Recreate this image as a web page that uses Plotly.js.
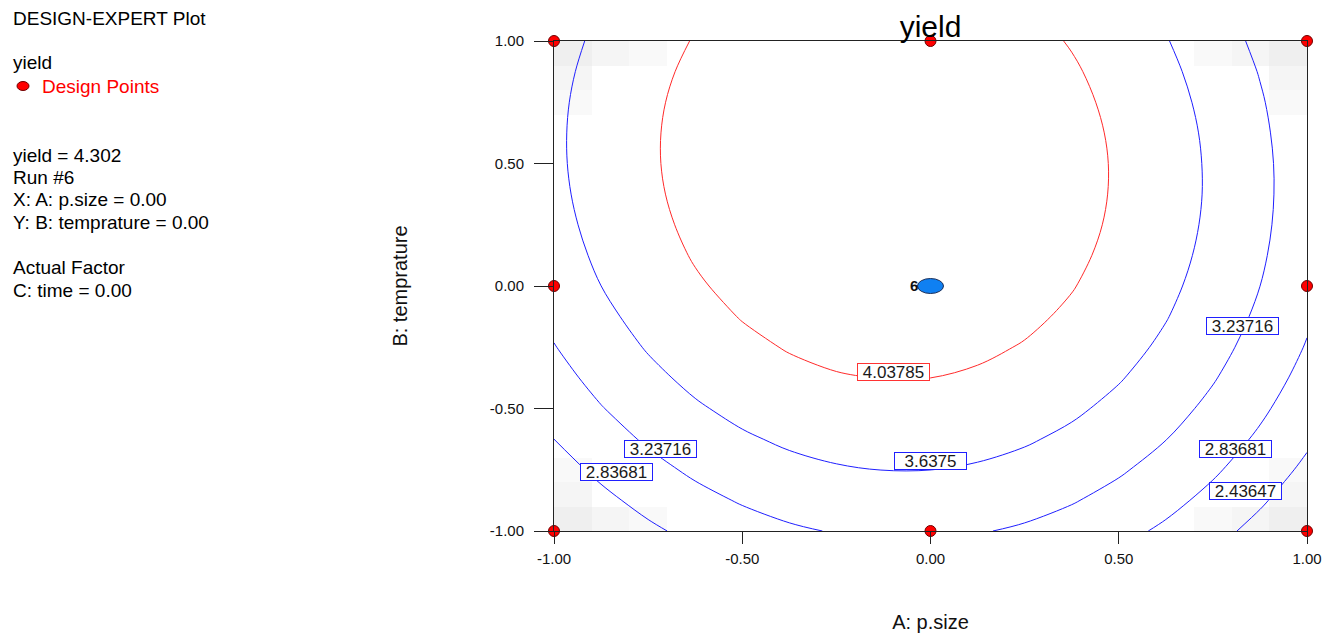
<!DOCTYPE html>
<html>
<head>
<meta charset="utf-8">
<script src="https://cdn.plot.ly/plotly-3.0.1.min.js"></script>
<style>
  html, body { margin: 0; padding: 0; background: #fff; }
  #chart { width: 1335px; height: 636px; }
</style>
</head>
<body>
<div id="chart"></div>
<script>
// Coded factor levels of the contour grid (A: p.size across, B: temprature up)
const gridA = [-1, -0.875, -0.75, -0.625, -0.5, -0.375, -0.25, -0.125, 0,
               0.125, 0.25, 0.375, 0.5, 0.625, 0.75, 0.875, 1];
const gridB = [-1, -0.875, -0.75, -0.625, -0.5, -0.375, -0.25, -0.125, 0,
               0.125, 0.25, 0.375, 0.5, 0.625, 0.75, 0.875, 1];

// Predicted yield on the grid, one row per B level (bottom to top), C: time = 0
const yieldGrid = [
  [2.460, 2.555, 2.766, 2.941, 3.082, 3.188, 3.258, 3.294, 3.294, 3.260, 3.190, 3.086, 2.946, 2.772, 2.562, 2.317, 2.038],
  [2.501, 2.745, 2.954, 3.129, 3.268, 3.372, 3.441, 3.475, 3.474, 3.439, 3.368, 3.262, 3.121, 2.945, 2.733, 2.487, 2.206],
  [2.677, 2.919, 3.127, 3.300, 3.438, 3.541, 3.608, 3.641, 3.639, 3.601, 3.529, 3.422, 3.279, 3.102, 2.889, 2.642, 2.359],
  [2.837, 3.078, 3.285, 3.456, 3.592, 3.694, 3.760, 3.791, 3.788, 3.749, 3.675, 3.566, 3.422, 3.243, 3.029, 2.780, 2.496],
  [2.981, 3.221, 3.426, 3.596, 3.731, 3.831, 3.896, 3.926, 3.921, 3.880, 3.805, 3.695, 3.549, 3.369, 3.154, 2.903, 2.618],
  [3.110, 3.349, 3.552, 3.721, 3.854, 3.953, 4.016, 4.045, 4.038, 3.996, 3.920, 3.808, 3.661, 3.479, 3.262, 3.011, 2.724],
  [3.223, 3.460, 3.663, 3.830, 3.962, 4.059, 4.121, 4.148, 4.140, 4.097, 4.018, 3.905, 3.757, 3.574, 3.356, 3.102, 2.814],
  [3.321, 3.556, 3.757, 3.923, 4.053, 4.149, 4.210, 4.235, 4.226, 4.181, 4.101, 3.987, 3.837, 3.653, 3.433, 3.178, 2.888],
  [3.403, 3.637, 3.836, 4.000, 4.129, 4.224, 4.283, 4.307, 4.296, 4.250, 4.169, 4.053, 3.902, 3.716, 3.495, 3.238, 2.947],
  [3.469, 3.702, 3.899, 4.062, 4.190, 4.283, 4.340, 4.363, 4.351, 4.303, 4.221, 4.103, 3.951, 3.763, 3.541, 3.283, 2.990],
  [3.519, 3.751, 3.947, 4.108, 4.235, 4.326, 4.382, 4.403, 4.389, 4.341, 4.257, 4.138, 3.984, 3.795, 3.571, 3.312, 3.018],
  [3.554, 3.784, 3.979, 4.139, 4.264, 4.353, 4.408, 4.428, 4.413, 4.362, 4.277, 4.157, 4.001, 3.811, 3.586, 3.325, 3.030],
  [3.573, 3.801, 3.995, 4.153, 4.277, 4.365, 4.419, 4.437, 4.420, 4.369, 4.282, 4.160, 4.003, 3.811, 3.584, 3.323, 3.026],
  [3.576, 3.803, 3.995, 4.152, 4.274, 4.361, 4.413, 4.430, 4.412, 4.359, 4.271, 4.148, 3.989, 3.796, 3.568, 3.304, 3.006],
  [3.564, 3.790, 3.980, 4.136, 4.256, 4.342, 4.392, 4.408, 4.388, 4.334, 4.244, 4.119, 3.960, 3.765, 3.535, 3.271, 2.971],
  [3.536, 3.760, 3.949, 4.104, 4.223, 4.307, 4.356, 4.370, 4.349, 4.293, 4.202, 4.076, 3.915, 3.718, 3.487, 3.221, 2.920],
  [3.492, 3.715, 3.903, 4.056, 4.173, 4.256, 4.304, 4.316, 4.294, 4.236, 4.144, 4.016, 3.854, 3.656, 3.423, 3.156, 2.853]
];

// Contour levels drawn on the plot
const levels = [2.43647, 2.83681, 3.23716, 3.6375, 4.03785];

// Design points in this slice
const designA = [-1, 0, 1, -1, 1, -1, 0, 1];
const designB = [-1, -1, -1, 0, 0, 1, 1, 1];

// Selected run
const runNo = 6;
const runA = [0];
const runB = [0];
const runYield = 4.302;
const timeLevel = 0;

// Light grey corner shading (cell edges and shade level)
const shadeEdgesA = [-1, -0.9, -0.8, -0.7, 0.7, 0.8, 0.9, 1];
const shadeEdgesB = [-1, -0.9, -0.8, -0.7, 0.7, 0.8, 0.9, 1];
const shadeGrid = [
  [3, 2, 1, null, 1, 2, 3],
  [2, null, null, null, null, null, 2],
  [1, null, null, null, null, null, 1],
  [null, null, null, null, null, null, null],
  [1, null, null, null, null, null, 1],
  [2, null, null, null, null, null, 2],
  [3, 2, 1, null, 1, 2, 3]
];

// Axis ticks
const tickVals = [-1, -0.5, 0, 0.5, 1];
const tickText = tickVals.map(v => v.toFixed(2));

// ---- page geometry ----
const W = 1335, H = 636;
const M = { l: 554, r: 28, t: 41, b: 105 };
const plotW = W - M.l - M.r, plotH = H - M.t - M.b;
const px2x = px => (px - M.l) / plotW;
const py2y = py => (H - M.b - py) / plotH;

const FONT = 'Arial, "Liberation Sans", Helvetica, sans-serif';

const redLevel = levels[levels.length - 1];
const blueLevels = levels.slice(0, levels.length - 1);

const traces = [
  {
    type: 'heatmap',
    x: shadeEdgesA, y: shadeEdgesB, z: shadeGrid,
    zmin: 1, zmax: 3,
    colorscale: [[0, '#f9f9f9'], [0.5, '#f5f5f5'], [1, '#efefef']],
    showscale: false, hoverinfo: 'skip', showlegend: false
  },
  {
    type: 'contour',
    x: gridA, y: gridB, z: yieldGrid,
    autocontour: false,
    contours: { coloring: 'none', start: blueLevels[0], end: blueLevels[blueLevels.length - 1],
                size: blueLevels[1] - blueLevels[0], showlabels: false },
    line: { color: '#1f1fff', width: 1, smoothing: 1 },
    showscale: false, hoverinfo: 'skip', showlegend: false
  },
  {
    type: 'contour',
    x: gridA, y: gridB, z: yieldGrid,
    autocontour: false,
    contours: { coloring: 'none', start: redLevel, end: redLevel, size: 1, showlabels: false },
    line: { color: '#ff2a2a', width: 1, smoothing: 1 },
    showscale: false, hoverinfo: 'skip', showlegend: false
  },
  {
    type: 'scatter', mode: 'markers',
    x: designA, y: designB,
    name: 'Design Points',
    marker: { color: '#ff0000', size: 11, line: { color: '#700000', width: 1 } },
    cliponaxis: false, hoverinfo: 'skip', showlegend: false
  }
];

// Boxed labels sitting on the contour lines
const labelSpots = [
  { lv: 4, a: -0.099, b: -0.353, c: '#ff3333' },
  { lv: 3, a: 0.000, b: -0.716, c: '#2020ff' },
  { lv: 2, a: -0.716, b: -0.664, c: '#2020ff' },
  { lv: 1, a: -0.834, b: -0.760, c: '#2020ff' },
  { lv: 2, a: 0.829, b: -0.164, c: '#2020ff' },
  { lv: 1, a: 0.810, b: -0.664, c: '#2020ff' },
  { lv: 0, a: 0.837, b: -0.835, c: '#2020ff' }
];

const annotations = labelSpots.map(s => ({
  xref: 'x', yref: 'y', x: s.a, y: s.b,
  text: String(levels[s.lv]),
  showarrow: false,
  font: { family: FONT, size: 17, color: '#1a1a1a' },
  bgcolor: '#ffffff', bordercolor: s.c, borderwidth: 1, borderpad: 0,
  width: 71, height: 16
}));

// Run number beside the selected point
annotations.push({
  xref: 'x', yref: 'y', x: runA[0], y: runB[0],
  text: '<b>' + runNo + '</b>', showarrow: false,
  xanchor: 'right', xshift: -11, yshift: 1,
  font: { family: FONT, size: 15, color: '#111' }
});

// Information panel on the left
const panel = [
  ['DESIGN-EXPERT Plot', 18, '#000'],
  ['yield', 63, '#000'],
  ['Design Points', 86, '#ff0000', 40],
  ['yield = ' + runYield.toFixed(3), 155, '#000'],
  ['Run #' + runNo, 177, '#000'],
  ['X: A: p.size = ' + runA[0].toFixed(2), 199, '#000'],
  ['Y: B: temprature = ' + runB[0].toFixed(2), 222, '#000'],
  ['Actual Factor', 267, '#000'],
  ['C: time = ' + timeLevel.toFixed(2), 290, '#000']
];
panel.forEach(([t, cy, col, left]) => annotations.push({
  xref: 'paper', yref: 'paper', x: px2x(left || 11), y: py2y(cy),
  xanchor: 'left', yanchor: 'middle', text: t, showarrow: false,
  font: { family: FONT, size: 19, color: col }
}));

const layout = {
  width: W, height: H,
  margin: M,
  paper_bgcolor: '#ffffff', plot_bgcolor: '#ffffff',
  font: { family: FONT, color: '#222' },
  title: {
    text: 'yield', font: { family: FONT, size: 30, color: '#000' },
    x: 0.5, xref: 'paper', xanchor: 'center',
    y: 1 - 26 / H, yref: 'container', yanchor: 'middle'
  },
  showlegend: false,
  xaxis: {
    range: [-1, 1], tickvals: tickVals, ticktext: tickText,
    ticks: 'outside', ticklen: 12, tickwidth: 1, tickcolor: '#222',
    ticklabelstandoff: 2,
    showline: true, linecolor: '#222', linewidth: 1, mirror: true,
    showgrid: false, zeroline: false, automargin: false,
    tickfont: { family: FONT, size: 15, color: '#111' },
    title: { text: 'A: p.size', font: { family: FONT, size: 20, color: '#111' }, standoff: 48 }
  },
  yaxis: {
    range: [-1, 1], tickvals: tickVals, ticktext: tickText,
    ticks: 'outside', ticklen: 19, tickwidth: 1, tickcolor: '#222',
    ticklabelstandoff: 7,
    showline: true, linecolor: '#222', linewidth: 1, mirror: true,
    showgrid: false, zeroline: false, automargin: false,
    tickfont: { family: FONT, size: 15, color: '#111' },
    title: { text: 'B: temprature', font: { family: FONT, size: 20, color: '#111' }, standoff: 76 }
  },
  shapes: [
    {
      // selected run
      type: 'circle', xref: 'x', yref: 'y',
      xsizemode: 'pixel', ysizemode: 'pixel',
      xanchor: runA[0], yanchor: runB[0],
      x0: -13, x1: 13, y0: -7.5, y1: 7.5,
      fillcolor: '#0f80f2', line: { color: '#1c2f5a', width: 1 }, layer: 'above'
    },
    {
      // key symbol for the design points
      type: 'circle', xref: 'paper', yref: 'paper',
      x0: px2x(17), x1: px2x(29), y0: py2y(90.5), y1: py2y(81.5),
      fillcolor: '#ff0000', line: { color: '#700000', width: 1 }
    }
  ],
  annotations: annotations
};

Plotly.newPlot('chart', traces, layout, { displayModeBar: false, staticPlot: true });
</script>
</body>
</html>
